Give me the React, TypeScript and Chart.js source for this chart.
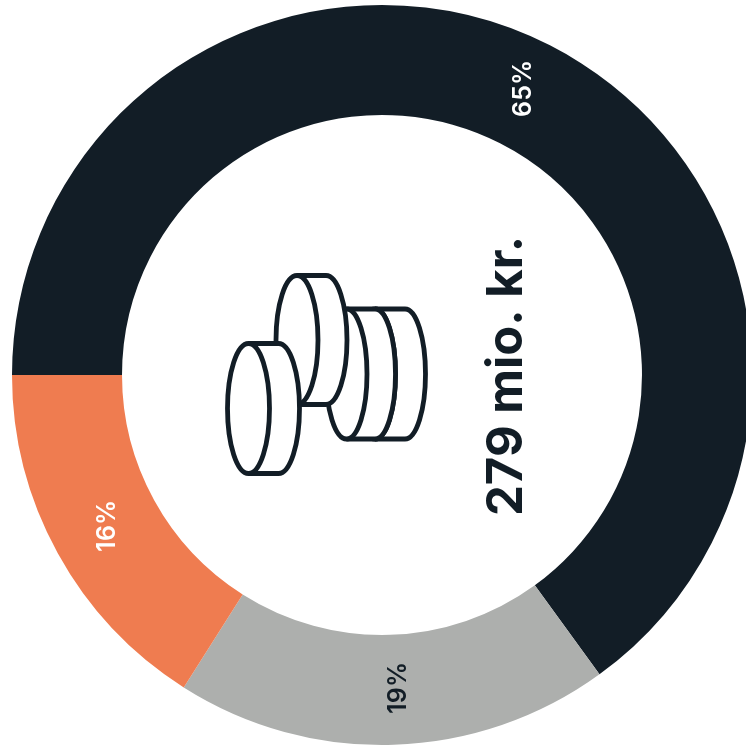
import React, { useEffect, useRef } from "react";
import { Chart, registerables } from "chart.js";

Chart.register(...registerables);

const categories = ["A", "B", "C"];
const shares = [65, 19, 16];
const sliceColors = ["#121d26", "#adafad", "#ef7c50"];
const labelColors = ["#ffffff", "#121d26", "#ffffff"];
const labelNudges = [[-2, -6], [6.5, -2], [2, -1]];
const centerText = "279 mio. kr.";
const INK = "#121d26";

function coin(ctx: CanvasRenderingContext2D, cx: number, cy: number, rx: number, ry: number, depth: number) {
  ctx.beginPath();
  ctx.moveTo(cx, cy - ry);
  ctx.lineTo(cx + depth, cy - ry);
  ctx.ellipse(cx + depth, cy, rx, ry, 0, -Math.PI / 2, Math.PI / 2);
  ctx.lineTo(cx, cy + ry);
  ctx.fill();
  ctx.stroke();
  ctx.beginPath();
  ctx.ellipse(cx, cy, rx, ry, 0, 0, Math.PI * 2);
  ctx.fill();
  ctx.stroke();
}

const overlay = {
  id: "overlay",
  afterDatasetsDraw(chart: any) {
    const ctx: CanvasRenderingContext2D = chart.ctx;
    const arcs = chart.getDatasetMeta(0).data;
    ctx.save();
    ctx.textAlign = "center";
    ctx.textBaseline = "middle";
    ctx.font = "600 25px Inter";
    (ctx as any).letterSpacing = "0.2px";
    arcs.forEach((arc: any, i: number) => {
      const p = arc.getCenterPoint();
      ctx.save();
      ctx.translate(p.x + labelNudges[i][0], p.y + labelNudges[i][1]);
      ctx.rotate(-Math.PI / 2);
      ctx.fillStyle = labelColors[i];
      ctx.fillText(`${shares[i]}%`, 0, 0);
      ctx.restore();
    });
    (ctx as any).letterSpacing = "0px";
    ctx.save();
    ctx.translate(507, 376);
    ctx.rotate(-Math.PI / 2);
    ctx.fillStyle = INK;
    ctx.font = "700 49px Inter";
    ctx.fillText(centerText, 0, 0);
    ctx.restore();

    ctx.fillStyle = "#ffffff";
    ctx.strokeStyle = INK;
    ctx.lineWidth = 4.8;
    ctx.lineJoin = "round";
    coin(ctx, 375, 374, 20.5, 65, 30);
    coin(ctx, 346.5, 374, 20.5, 65, 28.5);
    coin(ctx, 297, 340, 21, 64.5, 29);
    coin(ctx, 248.5, 408.5, 21, 65, 30);
    ctx.restore();
  },
};

export default function App() {
  const ref = useRef<HTMLCanvasElement>(null);
  useEffect(() => {
    document.body.style.margin = "0";
    const chart = new Chart(ref.current!, {
      type: "doughnut",
      data: {
        labels: categories,
        datasets: [{ data: shares, backgroundColor: sliceColors, borderWidth: 0 }],
      },
      options: {
        animation: false,
        responsive: false,
        rotation: -90,
        radius: 370,
        cutout: 263.5,
        plugins: { legend: { display: false }, tooltip: { enabled: false } },
      },
      plugins: [overlay],
    } as any);
    return () => chart.destroy();
  }, []);
  return (
    <div style={{ width: 746, height: 749, overflow: "hidden", position: "relative", background: "#fff" }}>
      <canvas ref={ref} width={764} height={750} style={{ position: "absolute", left: 0, top: 0 }} />
    </div>
  );
}
